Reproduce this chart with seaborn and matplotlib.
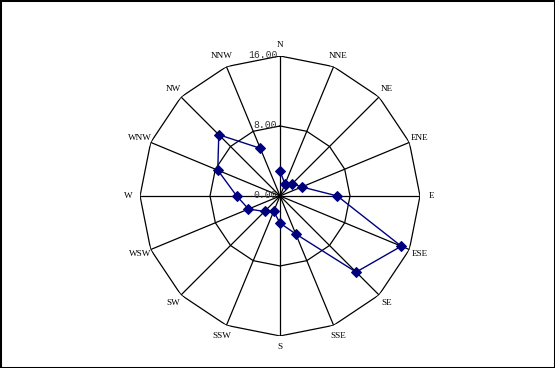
import numpy as np
import pandas as pd
import matplotlib
matplotlib.use("Agg")
import matplotlib.pyplot as plt
import seaborn as sns

directions = ["N", "NNE", "NE", "ENE", "E", "ESE", "SE", "SSE",
              "S", "SSW", "SW", "WSW", "W", "WNW", "NW", "NNW"]
values = [2.8, 1.5, 2.0, 2.7, 6.55, 15.0, 12.3, 4.7,
          3.1, 1.9, 2.5, 3.9, 4.95, 7.7, 9.9, 5.9]
ring_ticks = [0, 8, 16]
ring_labels = ["0.00", "8.00", "16.00"]

sns.set_style("white")
plt.rcParams["font.family"] = ["Liberation Serif", "DejaVu Sans"]

fig = plt.figure(figsize=(5.55, 3.68), dpi=100)
ax = fig.add_axes([0.2523, 0.0870, 0.5045, 0.7609], projection="polar")
ax.set_theta_zero_location("N")
ax.set_theta_direction(-1)
ax.set_ylim(0, 16)
ax.grid(False)
ax.spines["polar"].set_visible(False)
ax.set_xticks([])
ax.set_yticks([])
ax.patch.set_alpha(0)

n = len(directions)
thetas = np.arange(n) * 2 * np.pi / n

# polygon rings
closed_t = np.append(thetas, thetas[0])
for r in ring_ticks[1:]:
    ax.plot(closed_t, [r] * (n + 1), color="black", lw=0.9, zorder=1)
# spokes
for t in thetas:
    ax.plot([t, t], [0, ring_ticks[-1]], color="black", lw=0.9, zorder=1)

# direction labels
for t, lab in zip(thetas, directions):
    ax.text(t, 17.3, lab, ha="center", va="center", fontsize=6.6,
            color="black", family=["Liberation Serif"])

# ring labels
for r, lab in zip(ring_ticks, ring_labels):
    ax.annotate(lab, xy=(0, r), xytext=(-2, 0.5), textcoords="offset points",
                ha="right", va="center", fontsize=7, color="#333333",
                family=["Liberation Mono"], zorder=3)

df = pd.DataFrame({"theta": np.append(thetas, thetas[0]),
                   "value": values + [values[0]]})
sns.lineplot(data=df, x="theta", y="value", sort=False, ax=ax,
             color="#00007f", lw=1.0, marker="D", markersize=4.6,
             markeredgecolor="#00007f", zorder=4)
ax.set_xlabel("")
ax.set_ylabel("")
ax.set_ylim(0, 16)

border = plt.Rectangle((0, 0), 1, 1, transform=fig.transFigure,
                       fill=False, edgecolor="black", lw=2.2)
fig.patches.append(border)

fig.savefig("out.png", dpi=100)
